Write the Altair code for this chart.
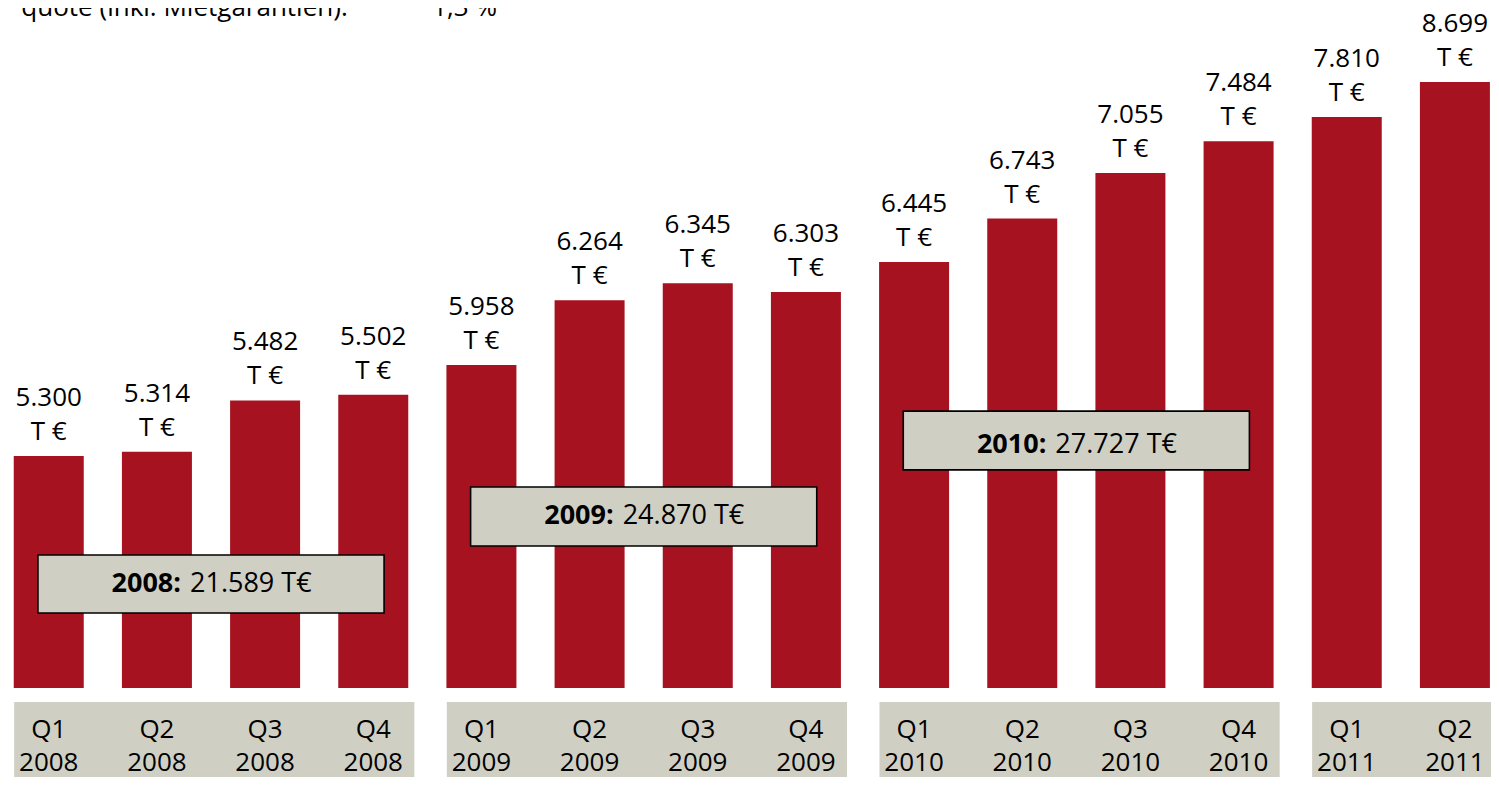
import altair as alt
import pandas as pd

# ---------------- data ----------------
quarters = ["Q1", "Q2", "Q3", "Q4", "Q1", "Q2", "Q3", "Q4", "Q1", "Q2", "Q3", "Q4", "Q1", "Q2"]
years = ["2008", "2008", "2008", "2008", "2009", "2009", "2009", "2009",
         "2010", "2010", "2010", "2010", "2011", "2011"]
values = [5300, 5314, 5482, 5502, 5958, 6264, 6345, 6303, 6445, 6743, 7055, 7484, 7810, 8699]
unit = "T €"

total_years = ["2008", "2009", "2010"]
totals = ["21.589", "24.870", "27.727"]

header_label = "quote (inkl. Mietgarantien):"
header_value = "1,3 %"

# ---------------- style / layout ----------------
RED = "#A6121F"
GRAY = "#D0CFC3"
FONT = "Open Sans"
W, H = 1483, 769

# x: slot index of each quarter
X = alt.Scale(domain=[-0.3306, 13.2874], nice=False, zero=False)
# y: value scale (piecewise, following the drawing of the original)
Y = alt.Scale(domain=[4000, 5300, 5500, 5958, 6445, 7055, 7810, 8699, 10000],
              range=[680, 448, 387, 357, 254, 165, 109, 74, 2], nice=False, zero=False)
BASE = 4000
# bottom category band scale
YB = alt.Scale(domain=[0, 1], range=[769, 694], nice=False, zero=False)

BOX_HALF = 1.6                      # half width of year boxes (slots)
BOX_LEVELS = {"2008": (4420, 4745), "2009": (4796, 5126), "2010": (5222, 5447)}
BAND_PAD = (0.32, 0.38)
HEADER_LEVEL = 9891

# ---------------- tables ----------------
df = pd.DataFrame({
    "idx": list(range(len(values))),
    "quarter": quarters,
    "year": years,
    "value": values,
})
df["label"] = [f"{v:,}".replace(",", ".") + "\n" + unit for v in values]
df["qlabel"] = [q + "\n" + y for q, y in zip(quarters, years)]

grp = df.groupby("year")["idx"].agg(["min", "max"]).reset_index()

boxes = pd.DataFrame({"year": total_years, "total": totals})
boxes = boxes.merge(grp, on="year")
boxes["center"] = (boxes["min"] + boxes["max"]) / 2
boxes["bx"] = boxes["center"] - BOX_HALF
boxes["bx2"] = boxes["center"] + BOX_HALF
boxes["by"] = [BOX_LEVELS[y][0] for y in boxes["year"]]
boxes["by2"] = [BOX_LEVELS[y][1] for y in boxes["year"]]
boxes["ty"] = (boxes["by"] + boxes["by2"]) / 2
boxes["bold"] = boxes["year"] + ":"
boxes["rest"] = boxes["total"] + " T€"

band = grp.copy()
band["x"] = band["min"] - BAND_PAD[0]
band["x2"] = band["max"] + BAND_PAD[1]

# ---------------- layers ----------------
xq = lambda f: alt.X(f, type="quantitative", scale=X, axis=None)

bars = alt.Chart(df).mark_bar(size=70, color=RED).encode(
    x=xq("idx"),
    y=alt.Y("value:Q", scale=Y, axis=None),
    y2=alt.Y2Datum(BASE),
)

labels = alt.Chart(df).mark_text(
    font=FONT, fontSize=26, baseline="bottom", align="center", dy=-45,
    lineBreak="\n", lineHeight=34, color="black"
).encode(
    x=xq("idx"),
    y=alt.Y("value:Q", scale=Y, axis=None),
    text="label:N",
)

box_rect = alt.Chart(boxes).mark_rect(fill=GRAY, stroke="black", strokeWidth=1.6).encode(
    x=xq("bx"), x2="bx2",
    y=alt.Y("by:Q", scale=Y, axis=None), y2="by2",
)
box_bold = alt.Chart(boxes).mark_text(
    font=FONT, fontSize=27, fontWeight="bold", align="right", baseline="middle",
    dx=-30, color="black"
).encode(x=xq("center"), y=alt.Y("ty:Q", scale=Y, axis=None), text="bold:N")
box_rest = alt.Chart(boxes).mark_text(
    font=FONT, fontSize=27, align="left", baseline="middle", dx=-21, color="black"
).encode(x=xq("center"), y=alt.Y("ty:Q", scale=Y, axis=None), text="rest:N")

hdr = alt.Chart(alt.Data(values=[{}]))
head1 = hdr.mark_text(font=FONT, fontSize=26, align="right", baseline="alphabetic",
                      color="black", text=header_label).encode(
    x=alt.XDatum(2.764, scale=X, axis=None),
    y=alt.YDatum(HEADER_LEVEL, scale=Y, axis=None),
)
head2 = hdr.mark_text(font=FONT, fontSize=26, align="left", baseline="alphabetic",
                      color="black", text=header_value).encode(
    x=alt.XDatum(3.545, scale=X, axis=None),
    y=alt.YDatum(HEADER_LEVEL, scale=Y, axis=None),
)

band_rect = alt.Chart(band).mark_rect(fill=GRAY).encode(
    x=xq("x"), x2="x2",
    y=alt.YDatum(0, scale=YB, axis=None), y2=alt.Y2Datum(1),
)
qlabels = alt.Chart(df).mark_text(
    font=FONT, fontSize=26, align="center", baseline="alphabetic",
    lineBreak="\n", lineHeight=33, color="black"
).encode(
    x=xq("idx"),
    y=alt.YDatum(0.52, scale=YB, axis=None),
    text="qlabel:N",
)

chart = alt.layer(
    bars, labels, box_rect, box_bold, box_rest, head1, head2, band_rect, qlabels
).resolve_scale(y="independent").properties(
    width=W, height=H, padding=0,
    autosize=alt.AutoSizeParams(type="none"),
    background="white",
).configure_view(stroke=None)

chart.save("out.html", embed_options={"renderer": "svg", "actions": False})
